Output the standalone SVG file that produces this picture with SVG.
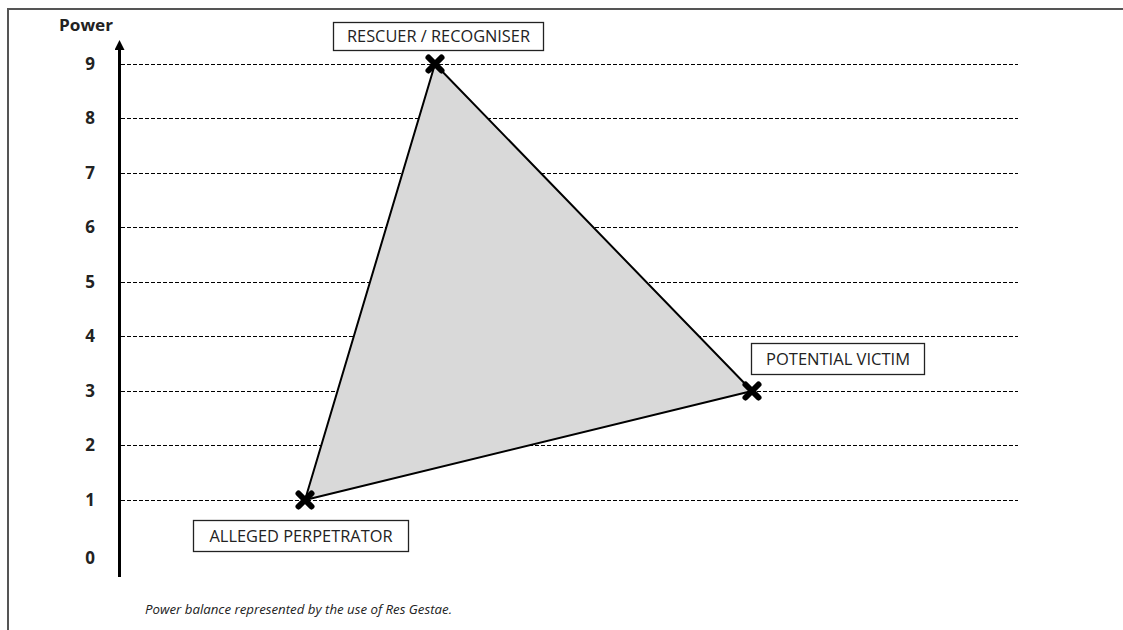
<svg xmlns="http://www.w3.org/2000/svg" width="1123" height="630" viewBox="0 0 1123 630">
  <style>
    .grid { stroke: #000; stroke-width: 1; stroke-dasharray: 4 2; fill: none; }
    .tick { font-family: "Open Sans", "Liberation Sans", sans-serif; font-weight: bold; font-size: 17px; fill: #222; text-anchor: middle; }
    .lbl { font-family: "Open Sans", "Liberation Sans", sans-serif; font-size: 15.5px; fill: #222; text-anchor: middle; }
    .box { fill: #fff; stroke: #222; stroke-width: 1.3; }
    .mark { stroke: #000; stroke-width: 6; stroke-linecap: round; }
  </style>
  <defs>
    <marker id="arrow" viewBox="0 0 10 10" refX="2" refY="5" markerWidth="10" markerHeight="10" markerUnits="userSpaceOnUse" orient="auto">
      <path d="M0,0 L10,5 L0,10 Z" fill="#000"/>
    </marker>
  </defs>
  <rect width="1123" height="630" fill="#fff"/>

  <!-- frame: top and left edges -->
  <path d="M8,630 L8,9 L1123,9" fill="none" stroke="#555" stroke-width="2"/>

  <!-- axis title and vertical axis -->
  <text x="86" y="31" font-family="Open Sans, Liberation Sans, sans-serif" font-weight="bold" font-size="16" fill="#222" text-anchor="middle" textLength="54" lengthAdjust="spacingAndGlyphs">Power</text>
  <line x1="119.5" y1="577" x2="119.5" y2="48" stroke="#000" stroke-width="3" marker-end="url(#arrow)"/>

  <!-- grid lines -->
  <g id="grid">
    <line class="grid" x1="121" y1="64.5" x2="1018" y2="64.5"/>
    <line class="grid" x1="121" y1="118.5" x2="1018" y2="118.5"/>
    <line class="grid" x1="121" y1="173.5" x2="1018" y2="173.5"/>
    <line class="grid" x1="121" y1="227.5" x2="1018" y2="227.5"/>
    <line class="grid" x1="121" y1="282.5" x2="1018" y2="282.5"/>
    <line class="grid" x1="121" y1="336.5" x2="1018" y2="336.5"/>
    <line class="grid" x1="121" y1="391.5" x2="1018" y2="391.5"/>
    <line class="grid" x1="121" y1="445.5" x2="1018" y2="445.5"/>
    <line class="grid" x1="121" y1="500.5" x2="1018" y2="500.5"/>
  </g>

  <!-- tick labels -->
  <g id="ticks">
    <text class="tick" x="90" y="70">9</text>
    <text class="tick" x="90" y="124">8</text>
    <text class="tick" x="90" y="179">7</text>
    <text class="tick" x="90" y="233">6</text>
    <text class="tick" x="90" y="288">5</text>
    <text class="tick" x="90" y="342">4</text>
    <text class="tick" x="90" y="397">3</text>
    <text class="tick" x="90" y="451">2</text>
    <text class="tick" x="90" y="506">1</text>
    <text class="tick" x="90" y="564">0</text>
  </g>

  <!-- connectors: the power triangle -->
  <g id="connectors">
    <polygon points="435,64 752,391 305,500" fill="#d9d9d9" stroke="#000" stroke-width="2" stroke-linejoin="round"/>
  </g>

  <!-- nodes -->
  <g id="rescuer">
    <rect class="box" x="333.5" y="22.5" width="210" height="28"/>
    <text class="lbl" x="438.5" y="42" textLength="183" lengthAdjust="spacingAndGlyphs">RESCUER / RECOGNISER</text>
    <path class="mark" d="M428.5,57.5 L441.5,70.5 M441.5,57.5 L428.5,70.5"/>
  </g>
  <g id="victim">
    <rect class="box" x="751.5" y="343.5" width="173" height="31"/>
    <text class="lbl" x="838" y="365" textLength="144" lengthAdjust="spacingAndGlyphs">POTENTIAL VICTIM</text>
    <path class="mark" d="M745.5,384.5 L758.5,397.5 M758.5,384.5 L745.5,397.5"/>
  </g>
  <g id="perpetrator">
    <rect class="box" x="193.5" y="520.5" width="215" height="31"/>
    <text class="lbl" x="301" y="542" textLength="183" lengthAdjust="spacingAndGlyphs">ALLEGED PERPETRATOR</text>
    <path class="mark" d="M298.5,493.5 L311.5,506.5 M311.5,493.5 L298.5,506.5"/>
  </g>

  <!-- caption -->
  <text x="145" y="614" font-family="Open Sans, Liberation Sans, sans-serif" font-style="italic" font-size="13.3" fill="#222" textLength="307" lengthAdjust="spacingAndGlyphs">Power balance represented by the use of Res Gestae.</text>
</svg>
